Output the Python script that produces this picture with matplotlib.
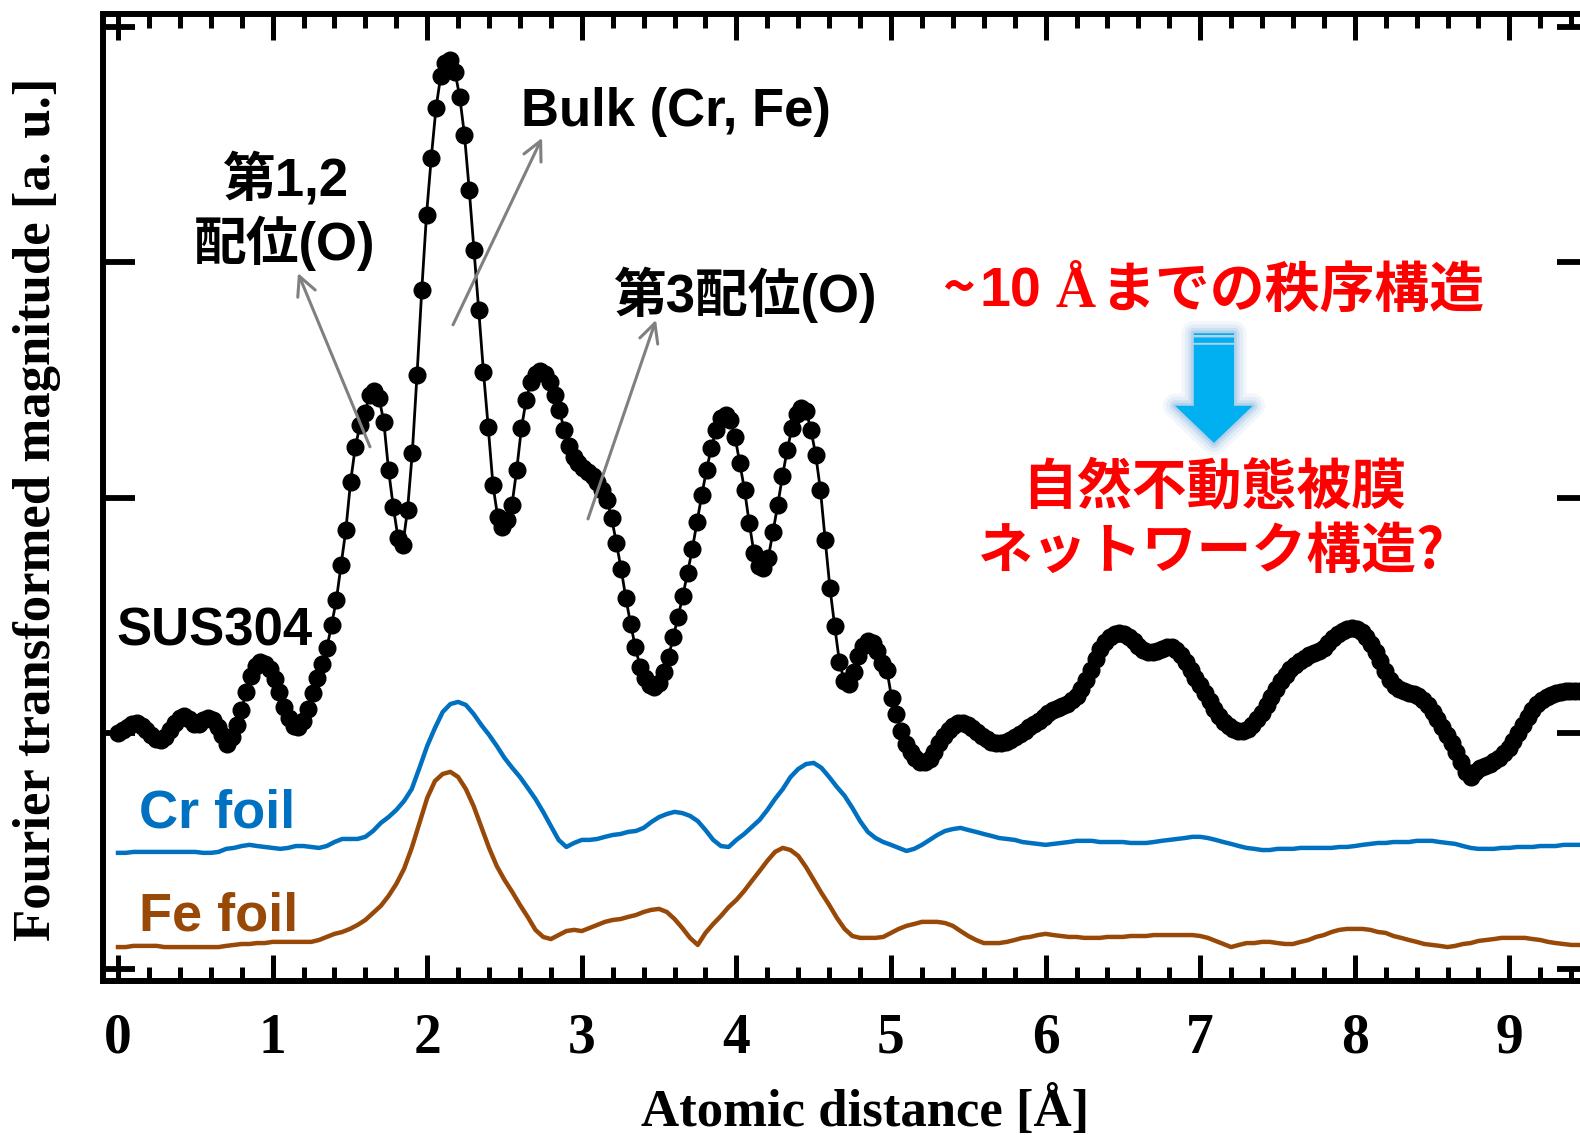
import numpy as np
import matplotlib
matplotlib.use('Agg')
import matplotlib.pyplot as plt
import matplotlib.patheffects as pe
from matplotlib.path import Path
from matplotlib.patches import PathPatch
from matplotlib.ticker import MultipleLocator
from matplotlib.transforms import IdentityTransform

plt.rcParams['font.family'] = 'Liberation Serif'
plt.rcParams['font.weight'] = 'bold'

SANS = ['Liberation Sans', 'Noto Sans CJK JP']
CJK = ['Noto Sans CJK JP', 'Liberation Sans']

# |FT| of SUS304 on the r-grid of the transform (dr = pi/102.4)
dr = 0.0307
sus304 = [
    1.002, 1.015, 1.028, 1.040, 1.045, 1.032, 1.015, 0.994, 0.977, 0.972,
    0.985, 1.015, 1.045, 1.066, 1.074, 1.062, 1.040, 1.040, 1.057, 1.066,
    1.057, 1.028, 0.994, 0.955, 0.985, 1.036, 1.100, 1.176, 1.244, 1.287,
    1.304, 1.295, 1.274, 1.231, 1.176, 1.113, 1.066, 1.032, 1.028, 1.053,
    1.104, 1.172, 1.236, 1.295, 1.363, 1.461, 1.567, 1.715, 1.864, 2.068,
    2.217, 2.310, 2.361, 2.437, 2.454, 2.425, 2.323, 2.119, 1.962, 1.830,
    1.800, 1.949, 2.191, 2.522, 2.883, 3.202, 3.444, 3.656, 3.792, 3.847,
    3.860, 3.809, 3.703, 3.541, 3.308, 3.053, 2.798, 2.535, 2.301, 2.055,
    1.919, 1.877, 1.907, 1.970, 2.119, 2.297, 2.416, 2.493, 2.527, 2.539,
    2.527, 2.493, 2.437, 2.374, 2.289, 2.221, 2.174, 2.149, 2.127, 2.110,
    2.093, 2.068, 2.034, 1.992, 1.915, 1.809, 1.699, 1.575, 1.465, 1.367,
    1.282, 1.236, 1.206, 1.197, 1.214, 1.261, 1.325, 1.410, 1.495, 1.584,
    1.682, 1.783, 1.898, 2.013, 2.119, 2.212, 2.289, 2.340, 2.352, 2.331,
    2.259, 2.149, 2.034, 1.894, 1.766, 1.711, 1.703, 1.745, 1.856, 1.970,
    2.093, 2.204, 2.297, 2.357, 2.382, 2.369, 2.289, 2.183, 2.034, 1.822,
    1.618, 1.456, 1.304, 1.223, 1.210, 1.261, 1.329, 1.372, 1.393, 1.384,
    1.350, 1.299, 1.270, 1.151, 1.083, 1.011, 0.955, 0.921, 0.896, 0.879,
    0.879, 0.892, 0.921, 0.960, 0.989, 1.015, 1.032, 1.045, 1.045, 1.036,
    1.023, 1.006, 0.989, 0.977, 0.964, 0.960, 0.960, 0.964, 0.972, 0.985,
    0.998, 1.011, 1.028, 1.040, 1.053, 1.070, 1.087, 1.100, 1.108, 1.117,
    1.125, 1.142, 1.159, 1.189, 1.227, 1.270, 1.316, 1.359, 1.389, 1.410,
    1.423, 1.427, 1.423, 1.410, 1.393, 1.372, 1.355, 1.346, 1.346, 1.350,
    1.359, 1.367, 1.367, 1.355, 1.333, 1.304, 1.270, 1.236, 1.206, 1.172,
    1.138, 1.104, 1.074, 1.049, 1.032, 1.019, 1.011, 1.011, 1.019, 1.036,
    1.062, 1.087, 1.121, 1.155, 1.189, 1.223, 1.248, 1.274, 1.291, 1.308,
    1.321, 1.333, 1.342, 1.350, 1.363, 1.384, 1.406, 1.423, 1.435, 1.444,
    1.448, 1.444, 1.431, 1.410, 1.380, 1.346, 1.308, 1.265, 1.227, 1.202,
    1.189, 1.180, 1.172, 1.168, 1.159, 1.142, 1.121, 1.091, 1.062, 1.028,
    0.994, 0.960, 0.921, 0.879, 0.837, 0.815, 0.837, 0.854, 0.862, 0.870,
    0.883, 0.896, 0.917, 0.938, 0.968, 1.002, 1.036, 1.070, 1.100, 1.125,
    1.142, 1.155, 1.163, 1.172, 1.176, 1.180, 1.180, 1.180, 1.180, 1.176,
]

# reference foils, sampled every 0.05 A (offset for display)
dr_foil = 0.05
cr_foil = [
    0.493, 0.493, 0.497, 0.497, 0.497, 0.497, 0.497, 0.497, 0.497, 0.497,
    0.497, 0.493, 0.493, 0.497, 0.510, 0.514, 0.522, 0.527, 0.522, 0.518,
    0.514, 0.510, 0.514, 0.522, 0.522, 0.518, 0.514, 0.522, 0.539, 0.552,
    0.552, 0.552, 0.561, 0.586, 0.620, 0.645, 0.675, 0.713, 0.764, 0.854,
    0.947, 1.023, 1.091, 1.125, 1.134, 1.121, 1.083, 1.036, 0.994, 0.947,
    0.896, 0.854, 0.815, 0.769, 0.722, 0.667, 0.607, 0.548, 0.518, 0.535,
    0.548, 0.548, 0.552, 0.561, 0.569, 0.573, 0.582, 0.586, 0.599, 0.624,
    0.645, 0.658, 0.667, 0.662, 0.650, 0.628, 0.590, 0.548, 0.522, 0.518,
    0.548, 0.573, 0.603, 0.633, 0.675, 0.722, 0.764, 0.815, 0.849, 0.870,
    0.875, 0.854, 0.815, 0.773, 0.735, 0.684, 0.628, 0.582, 0.556, 0.539,
    0.527, 0.514, 0.501, 0.510, 0.527, 0.548, 0.569, 0.586, 0.594, 0.599,
    0.590, 0.582, 0.573, 0.565, 0.556, 0.552, 0.548, 0.539, 0.535, 0.531,
    0.527, 0.531, 0.535, 0.539, 0.544, 0.544, 0.544, 0.539, 0.539, 0.539,
    0.539, 0.535, 0.535, 0.535, 0.539, 0.544, 0.548, 0.552, 0.556, 0.561,
    0.561, 0.556, 0.548, 0.539, 0.531, 0.522, 0.514, 0.510, 0.505, 0.505,
    0.510, 0.510, 0.510, 0.514, 0.514, 0.514, 0.514, 0.514, 0.518, 0.518,
    0.522, 0.527, 0.531, 0.535, 0.535, 0.539, 0.539, 0.539, 0.544, 0.544,
    0.544, 0.539, 0.535, 0.531, 0.522, 0.514, 0.510, 0.510, 0.510, 0.514,
    0.514, 0.518, 0.518, 0.518, 0.522, 0.522, 0.522, 0.527, 0.527, 0.527,
    0.527,
]
fe_foil = [
    0.093, 0.093, 0.098, 0.098, 0.098, 0.098, 0.093, 0.093, 0.093, 0.093,
    0.093, 0.093, 0.093, 0.093, 0.098, 0.102, 0.106, 0.106, 0.110, 0.110,
    0.115, 0.115, 0.115, 0.115, 0.115, 0.115, 0.123, 0.136, 0.149, 0.157,
    0.170, 0.187, 0.208, 0.238, 0.268, 0.310, 0.361, 0.425, 0.514, 0.620,
    0.726, 0.798, 0.828, 0.837, 0.815, 0.764, 0.692, 0.603, 0.514, 0.437,
    0.378, 0.327, 0.272, 0.221, 0.166, 0.136, 0.127, 0.144, 0.161, 0.166,
    0.161, 0.174, 0.187, 0.200, 0.208, 0.212, 0.221, 0.229, 0.242, 0.251,
    0.255, 0.242, 0.212, 0.174, 0.132, 0.102, 0.153, 0.191, 0.225, 0.263,
    0.293, 0.331, 0.374, 0.416, 0.459, 0.497, 0.514, 0.505, 0.480, 0.433,
    0.378, 0.323, 0.272, 0.217, 0.170, 0.140, 0.132, 0.132, 0.132, 0.136,
    0.153, 0.170, 0.183, 0.191, 0.200, 0.200, 0.200, 0.195, 0.183, 0.161,
    0.140, 0.123, 0.110, 0.110, 0.110, 0.115, 0.123, 0.132, 0.136, 0.144,
    0.149, 0.144, 0.140, 0.136, 0.136, 0.132, 0.132, 0.132, 0.136, 0.136,
    0.136, 0.140, 0.140, 0.140, 0.144, 0.144, 0.144, 0.144, 0.144, 0.144,
    0.140, 0.132, 0.119, 0.106, 0.093, 0.102, 0.110, 0.110, 0.115, 0.115,
    0.110, 0.106, 0.106, 0.115, 0.123, 0.136, 0.144, 0.157, 0.166, 0.170,
    0.170, 0.170, 0.166, 0.157, 0.153, 0.140, 0.132, 0.123, 0.115, 0.106,
    0.102, 0.098, 0.093, 0.098, 0.106, 0.110, 0.119, 0.123, 0.127, 0.132,
    0.132, 0.132, 0.132, 0.127, 0.123, 0.115, 0.110, 0.106, 0.102, 0.102,
    0.098,
]

r_sus = np.arange(len(sus304)) * dr
r_foil = np.arange(len(cr_foil)) * dr_foil

CR_BLUE = '#0070C0'
FE_BROWN = '#984807'
RED = '#FF0000'
GREY = '#808080'

fig = plt.figure(figsize=(15.8, 11.35), dpi=100)
# right spine sits just past the edge of the figure
ax = fig.add_axes([0.0652, 0.1357, 0.9405, 0.852])

ax.plot(r_sus, sus304, color='black', lw=2, marker='o', ms=12, zorder=3)
ax.plot(r_foil, cr_foil, color=CR_BLUE, lw=3.2, zorder=2)
ax.plot(r_foil, fe_foil, color=FE_BROWN, lw=3.2, zorder=2)

ax.set_xlim(-0.097, 9.515)
ax.set_ylim(-0.051, 4.055)

for sp in ax.spines.values():
    sp.set_linewidth(4.3)

ax.xaxis.set_major_locator(MultipleLocator(1))
ax.xaxis.set_minor_locator(MultipleLocator(0.2))
ax.yaxis.set_major_locator(MultipleLocator(1))
ax.tick_params(which='both', direction='in', top=True, right=True,
               labelleft=False)
ax.tick_params(axis='x', which='major', length=19, width=3.6, pad=23,
               labelsize=40)
ax.tick_params(axis='x', which='minor', length=10, width=3.6)
ax.tick_params(axis='y', which='major', length=23, width=4.2)

ax.set_xlabel('Atomic distance [Å]', fontsize=38, fontweight='bold')
ax.xaxis.set_label_coords(0.5128, -0.109)
ax.set_ylabel('Fourier transformed magnitude [a. u.]', fontsize=38,
              fontweight='bold')
ax.yaxis.set_label_coords(-0.0283, 0.488)

# curve labels
ax.text(-0.013, 1.431, 'SUS304', fontsize=38, fontweight='bold',
        family=SANS, va='center', ha='left')
ax.text(0.136, 0.662, 'Cr foil', fontsize=39, fontweight='bold',
        family=SANS, color=CR_BLUE, va='center', ha='left')
ax.text(0.136, 0.221, 'Fe foil', fontsize=39, fontweight='bold',
        family=SANS, color=FE_BROWN, va='center', ha='left')

# shell assignments
ax.text(1.080, 3.214, '第1,2\n配位(O)', fontsize=38, fontweight='bold',
        family=SANS, va='center', ha='center', linespacing=1.2)
ax.text(2.607, 3.639, 'Bulk (Cr, Fe)', fontsize=38, fontweight='bold',
        family=SANS, va='center', ha='left')
ax.text(3.200, 2.862, '第3配位(O)', fontsize=38, fontweight='bold',
        family=SANS, va='center', ha='left')

arrow_kw = dict(arrowstyle='->', color=GREY, lw=2.2, mutation_scale=34,
                shrinkA=0, shrinkB=0)
for tail, tip in [((1.630, 2.217), (1.164, 2.955)),
                  ((2.167, 2.735), (2.743, 3.529)),
                  ((3.040, 1.911), (3.480, 2.756))]:
    ax.annotate('', xy=tip, xytext=tail, arrowprops=arrow_kw, zorder=5)

# blue down arrow with soft glow
cx = 7.089
shaft_w, head_w = 0.130, 0.250
top, head_base, tip = 2.650, 2.391, 2.234
verts = [(cx - shaft_w, top), (cx + shaft_w, top), (cx + shaft_w, head_base),
         (cx + head_w, head_base), (cx, tip), (cx - head_w, head_base),
         (cx - shaft_w, head_base), (cx - shaft_w, top)]
codes = [Path.MOVETO] + [Path.LINETO] * 6 + [Path.CLOSEPOLY]
for y0, y1 in [(2.659, 2.681), (2.692, 2.699)]:
    verts += [(cx - shaft_w, y0), (cx + shaft_w, y0), (cx + shaft_w, y1),
              (cx - shaft_w, y1), (cx - shaft_w, y0)]
    codes += [Path.MOVETO, Path.LINETO, Path.LINETO, Path.LINETO,
              Path.CLOSEPOLY]
glow = [pe.Stroke(linewidth=w, foreground='#9DC3E6', alpha=a,
                  joinstyle='round')
        for w, a in [(18, 0.12), (13, 0.18), (8, 0.3), (4, 0.5)]]
arrow = PathPatch(Path(verts, codes), facecolor='#00B0F0', edgecolor='none',
                  zorder=4)
arrow.set_path_effects(glow + [pe.Normal()])
ax.add_patch(arrow)

ax.text(7.09, 2.047, '自然不動態被膜', fontsize=39.5, fontweight='bold',
        family=CJK, color=RED, va='center', ha='center')
ax.text(7.076, 1.771, 'ネットワーク構造?', fontsize=39.5, fontweight='bold',
        family=CJK, color=RED, va='center', ha='center')

# "~10 Å..." line: Å set in the serif face, the rest in sans/CJK
fig.canvas.draw()
renderer = fig.canvas.get_renderer()
pieces = [('~', CJK, 40, 0.0), ('10', SANS, 40, 5.0),
          ('Å', ['Liberation Serif'], 40, 14.0),
          ('までの秩序構造', CJK, 39.5, 4.0)]
widths = []
for s, fam, size, gap in pieces:
    t = fig.text(0, 0, s, fontsize=size, fontweight='bold', family=fam)
    widths.append(t.get_window_extent(renderer).width)
    t.remove()
total = sum(widths) + sum(p[3] for p in pieces)
xc, yb = ax.transData.transform((7.083, 2.811))
x = xc - total / 2
for (s, fam, size, gap), w in zip(pieces, widths):
    x += gap
    fig.text(x, yb, s, fontsize=size, fontweight='bold', family=fam,
             color=RED, va='baseline', ha='left',
             transform=IdentityTransform())
    x += w

fig.savefig('out.png', dpi=100)
